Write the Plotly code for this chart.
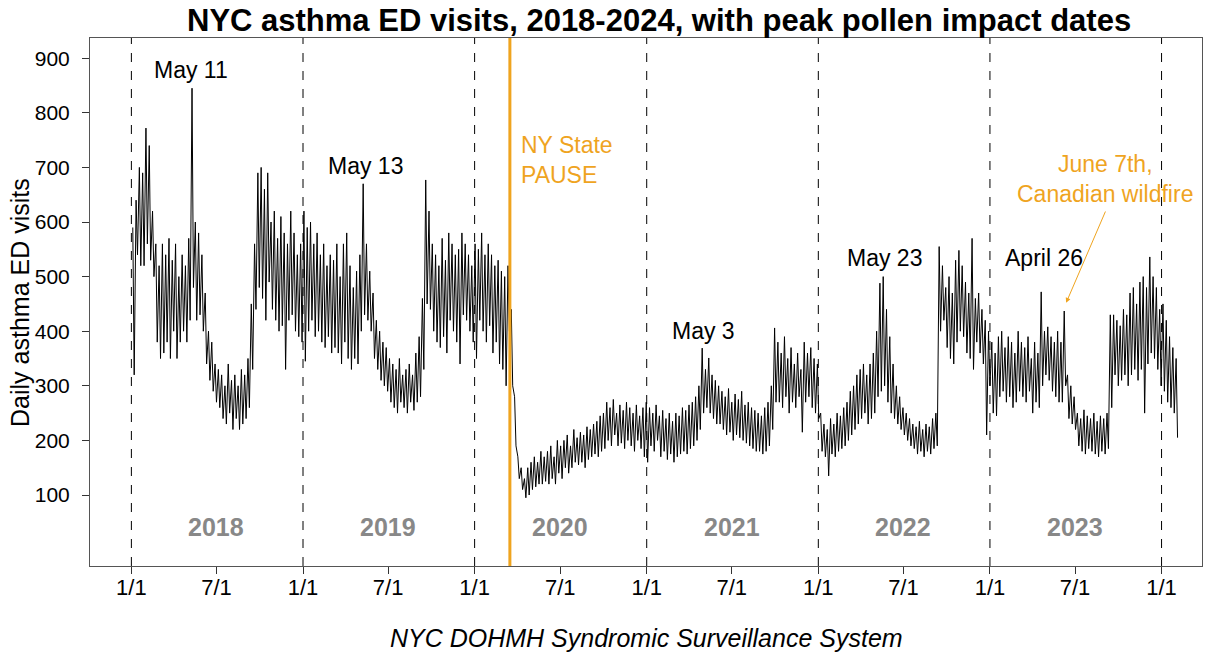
import pandas as pd
import plotly.graph_objects as go

# Weekly peak (weekday) and trough values of daily asthma ED visits, one pair per week
# starting Monday 2018-01-01.
high_2018 = [590, 640, 700, 690, 772, 740, 620, 560, 520, 560, 540, 570, 530,
             560, 500, 540, 520, 570, 845, 600, 580, 540, 470, 400, 380, 340,
             330, 320, 300, 340, 310, 320, 300, 330, 320, 350, 450, 560, 690,
             700, 660, 690, 600, 620, 570, 610, 580, 560, 620, 580, 540, 560, 620]
low_2018 = [320, 540, 520, 520, 560, 530, 500, 380, 350, 360, 380, 350, 400,
            350, 380, 400, 380, 420, 480, 420, 430, 400, 340, 310, 290, 270,
            260, 240, 230, 250, 220, 240, 220, 230, 240, 260, 330, 440, 480,
            460, 420, 490, 440, 420, 400, 410, 330, 420, 430, 400, 390, 380, 345]

high_2019 = [590, 600, 560, 580, 540, 560, 520, 540, 530, 560, 500, 560, 580,
             520, 480, 510, 540, 670, 560, 510, 470, 420, 400, 380, 370, 350,
             340, 330, 350, 320, 330, 340, 320, 360, 390, 460, 677, 620, 560,
             540, 520, 570, 530, 580, 560, 540, 550, 580, 560, 540, 520, 560]
low_2019 = [400, 420, 390, 400, 380, 370, 390, 360, 370, 360, 340, 380, 350,
            330, 350, 340, 400, 430, 420, 400, 350, 330, 310, 300, 290, 270,
            260, 250, 270, 260, 250, 270, 255, 270, 280, 330, 450, 440, 400,
            380, 370, 390, 360, 420, 400, 380, 340, 430, 420, 400, 380, 350]

high_2020 = [550, 580, 540, 560, 540, 520, 530, 510, 500, 520, 440, 280, 170,
             150, 130, 150, 160, 170, 160, 180, 170, 180, 190, 170, 200, 190,
             200, 210, 190, 220, 205, 215, 210, 225, 220, 230, 235, 245, 250,
             270, 260, 275, 250, 265, 255, 270, 260, 250, 265, 245, 260, 270]
low_2020 = [420, 400, 380, 410, 360, 380, 340, 330, 300, 400, 300, 190, 130,
            110, 95, 100, 110, 115, 120, 120, 125, 120, 130, 120, 140, 130,
            150, 140, 150, 160, 155, 160, 150, 165, 170, 175, 170, 180, 185,
            200, 190, 210, 190, 195, 185, 200, 190, 180, 200, 185, 170, 160]

high_2021 = [260, 250, 265, 245, 255, 240, 250, 235, 250, 245, 260, 255, 265,
             270, 280, 300, 369, 330, 351, 320, 310, 300, 290, 280, 295, 270,
             285, 275, 290, 265, 270, 260, 255, 250, 245, 260, 270, 300, 406,
             380, 360, 390, 350, 370, 340, 360, 330, 380, 360, 370, 350, 340]
low_2021 = [190, 180, 200, 170, 180, 165, 175, 160, 170, 175, 180, 175, 185,
            190, 200, 220, 250, 260, 250, 240, 230, 230, 220, 210, 215, 200,
            210, 205, 200, 195, 190, 185, 180, 180, 175, 180, 190, 220, 270,
            270, 260, 280, 250, 270, 260, 280, 215, 270, 280, 260, 250, 240]

high_2022 = [250, 230, 220, 240, 230, 250, 245, 260, 270, 290, 300, 320, 330,
             340, 320, 340, 360, 400, 488, 500, 440, 390, 340, 300, 280, 260,
             250, 240, 230, 225, 235, 220, 230, 225, 240, 250, 555, 520, 480,
             500, 470, 530, 548, 520, 490, 470, 570, 460, 470, 440, 420, 400]
low_2022 = [180, 170, 135, 175, 170, 180, 185, 190, 200, 210, 220, 230, 240,
            250, 230, 240, 250, 280, 290, 300, 270, 250, 240, 230, 220, 210,
            200, 190, 185, 175, 180, 170, 180, 175, 185, 190, 400, 420, 370,
            350, 340, 380, 400, 390, 360, 350, 330, 380, 360, 340, 210, 300]

high_2023 = [380, 360, 390, 400, 370, 390, 380, 360, 400, 380, 370, 390, 350,
             380, 360, 472, 400, 408, 390, 380, 400, 380, 437, 320, 300, 280,
             250, 240, 256, 245, 240, 250, 235, 245, 240, 250, 430, 430, 420,
             410, 440, 430, 470, 480, 450, 490, 500, 480, 536, 500, 480, 440]
low_2023 = [250, 245, 280, 290, 270, 280, 260, 270, 290, 280, 270, 290, 250,
            270, 260, 300, 320, 310, 290, 280, 270, 270, 300, 240, 230, 220,
            190, 180, 175, 185, 180, 175, 170, 180, 175, 185, 260, 320, 300,
            310, 320, 300, 320, 330, 310, 330, 250, 340, 360, 350, 330, 300]

high_2024 = [450, 420, 390, 370, 350]
low_2024 = [290, 270, 260, 250, 205]

weekly_high = high_2018 + high_2019 + high_2020 + high_2021 + high_2022 + high_2023 + high_2024
weekly_low = low_2018 + low_2019 + low_2020 + low_2021 + low_2022 + low_2023 + low_2024

# Peak dates labelled above the series (label anchor dates)
peak_labels = ["May 11", "May 13", "May 3", "May 23", "April 26"]
peak_dates = ["2018-05-07", "2019-05-13", "2021-05-02", "2022-05-22", "2023-04-25"]
peak_label_y = [878, 702, 400, 534, 534]

year_labels = ["2018", "2019", "2020", "2021", "2022", "2023"]
year_label_dates = ["2018-07-01", "2019-07-01", "2020-07-01", "2021-07-01", "2022-07-01", "2023-07-01"]

year_starts = ["2018-01-01", "2019-01-01", "2020-01-01", "2021-01-01",
               "2022-01-01", "2023-01-01", "2024-01-01"]
tick_dates = ["2018-01-01", "2018-07-01", "2019-01-01", "2019-07-01", "2020-01-01",
              "2020-07-01", "2021-01-01", "2021-07-01", "2022-01-01", "2022-07-01",
              "2023-01-01", "2023-07-01", "2024-01-01"]
tick_text = ["1/1", "7/1"] * 6 + ["1/1"]

pause_date = "2020-03-16"
ORANGE = "#EFA41F"
FONT = "Liberation Sans, Arial, sans-serif"

# Interleave each week's peak and trough into one daily-style trace
week_start = pd.date_range("2018-01-01", periods=len(weekly_high), freq="7D")
xs, ys = [], []
for ws, hi, lo in zip(week_start, weekly_high, weekly_low):
    xs += [ws + pd.Timedelta(days=3), ws + pd.Timedelta(days=6)]
    ys += [hi, lo]

fig = go.Figure()
fig.add_trace(go.Scatter(x=xs, y=ys, mode="lines",
                         line=dict(color="black", width=1), showlegend=False,
                         hoverinfo="x+y"))

shapes = []
for d in year_starts:
    shapes.append(dict(type="line", xref="x", yref="paper", x0=d, x1=d, y0=0, y1=1,
                       line=dict(color="black", width=1, dash="dash"), layer="below"))
shapes.append(dict(type="line", xref="x", yref="paper", x0=pause_date, x1=pause_date,
                   y0=0, y1=1, line=dict(color=ORANGE, width=3)))

annotations = []
for lab, d, yv in zip(peak_labels, peak_dates, peak_label_y):
    annotations.append(dict(x=d, y=yv, xref="x", yref="y", text=lab, showarrow=False,
                            yanchor="middle",
                            font=dict(size=23, color="black", family=FONT)))
for lab, d in zip(year_labels, year_label_dates):
    annotations.append(dict(x=d, y=41, xref="x", yref="y", text=f"<b>{lab}</b>",
                            showarrow=False, yanchor="middle",
                            font=dict(size=25, color="#888888", family=FONT)))

annotations.append(dict(x="2020-04-05", y=713, xref="x", yref="y",
                        text="NY State<br>PAUSE", showarrow=False, xanchor="left",
                        yanchor="middle", align="left",
                        font=dict(size=23, color=ORANGE, family=FONT)))
annotations.append(dict(x="2023-09-03", y=679, xref="x", yref="y",
                        text="June 7th,<br>Canadian wildfire", showarrow=False,
                        yanchor="middle", align="center",
                        font=dict(size=23, color=ORANGE, family=FONT)))
annotations.append(dict(x="2023-06-12", y=452, xref="x", yref="y",
                        ax="2023-09-05", ay=622, axref="x", ayref="y", text="",
                        showarrow=True, arrowhead=2, arrowsize=1, arrowwidth=1,
                        arrowcolor=ORANGE))

annotations.append(dict(x=0.5117, y=1.034, xref="paper", yref="paper",
                        yanchor="middle",
                        text="<b>NYC asthma ED visits, 2018-2024, with peak pollen impact dates</b>",
                        showarrow=False, font=dict(size=31, color="black", family=FONT)))
annotations.append(dict(x=-0.063, y=0.5, xref="paper", yref="paper",
                        xanchor="center", yanchor="middle",
                        text="Daily asthma ED visits", textangle=-90, showarrow=False,
                        font=dict(size=25, color="black", family=FONT)))
annotations.append(dict(x=0.5, y=-0.136, xref="paper", yref="paper",
                        yanchor="middle",
                        text="<i>NYC DOHMH Syndromic Surveillance System</i>",
                        showarrow=False, font=dict(size=25, color="black", family=FONT)))

fig.update_layout(
    width=1216, height=653,
    margin=dict(l=90, r=14, t=38, b=87),
    paper_bgcolor="white", plot_bgcolor="white",
    font=dict(family=FONT, color="black"),
    shapes=shapes, annotations=annotations,
    xaxis=dict(range=["2017-10-05", "2024-03-27"], tickmode="array",
               tickvals=tick_dates, ticktext=tick_text, ticks="outside", ticklen=7,
               tickcolor="#333", showgrid=False, zeroline=False,
               showline=True, mirror=True, linecolor="#555", linewidth=1,
               ticklabelstandoff=-5, tickfont=dict(size=22, family=FONT)),
    yaxis=dict(range=[-30, 937], tickmode="array",
               tickvals=[100, 200, 300, 400, 500, 600, 700, 800, 900],
               ticks="outside", ticklen=7, tickcolor="#333", showgrid=False,
               zeroline=False, showline=True, mirror=True, linecolor="#555",
               linewidth=1, ticklabelstandoff=8, tickfont=dict(size=21, family=FONT)),
)

fig.write_html("out.html")
